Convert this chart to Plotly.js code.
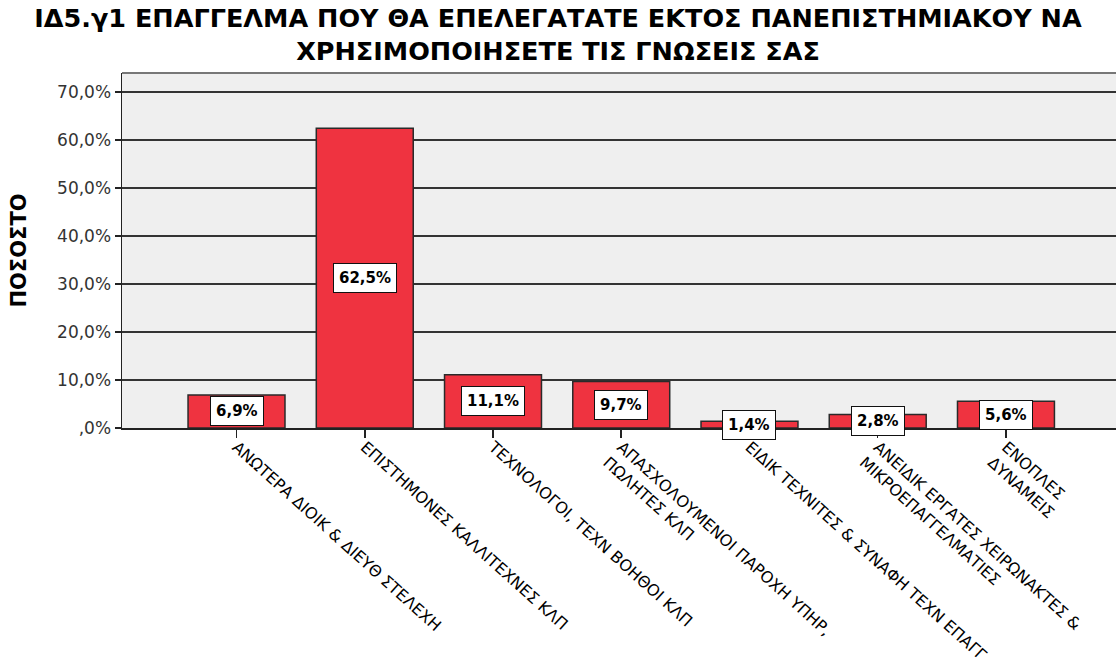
<!DOCTYPE html>
<html>
<head>
<meta charset="utf-8">
<script src="https://cdn.plot.ly/plotly-3.0.1.min.js"></script>
<style>html,body{margin:0;padding:0;background:#fff;}#chart{width:1116px;height:666px;}</style>
</head>
<body>
<div id="chart"></div>
<script>
const categories = [
  "ΑΝΩΤΕΡΑ ΔΙΟΙΚ & ΔΙΕΥΘ ΣΤΕΛΕΧΗ",
  "ΕΠΙΣΤΗΜΟΝΕΣ ΚΑΛΛΙΤΕΧΝΕΣ ΚΛΠ",
  "ΤΕΧΝΟΛΟΓΟΙ, ΤΕΧΝ ΒΟΗΘΟΙ ΚΛΠ",
  "ΑΠΑΣΧΟΛΟΥΜΕΝΟΙ ΠΑΡΟΧΗ ΥΠΗΡ,<br>ΠΩΛΗΤΕΣ ΚΛΠ",
  "ΕΙΔΙΚ ΤΕΧΝΙΤΕΣ & ΣΥΝΑΦΗ ΤΕΧΝ ΕΠΑΓΓ",
  "ΑΝΕΙΔΙΚ ΕΡΓΑΤΕΣ ΧΕΙΡΩΝΑΚΤΕΣ &<br>ΜΙΚΡΟΕΠΑΓΓΕΛΜΑΤΙΕΣ",
  "ΕΝΟΠΛΕΣ<br>ΔΥΝΑΜΕΙΣ"
];
const values = [6.9, 62.5, 11.1, 9.7, 1.4, 2.8, 5.6];
const valueLabels = ["6,9%", "62,5%", "11,1%", "9,7%", "1,4%", "2,8%", "5,6%"];
const yTickVals = [0, 10, 20, 30, 40, 50, 60, 70];
const yTickText = [",0%", "10,0%", "20,0%", "30,0%", "40,0%", "50,0%", "60,0%", "70,0%"];

const xIdx = categories.map((c, i) => i);
const FONT = 'DejaVu Sans, Liberation Sans, Arial, sans-serif';

const trace = {
  type: 'bar',
  x: xIdx,
  y: values,
  marker: { color: '#EF3340', line: { color: '#2a2a2a', width: 1.5 } },
  hoverinfo: 'none'
};

const annotations = values.map((v, i) => ({
  x: i, y: v / 2, xref: 'x', yref: 'y',
  text: '<b>' + valueLabels[i] + '</b>',
  showarrow: false,
  bgcolor: '#ffffff',
  bordercolor: '#111111',
  borderwidth: 1,
  borderpad: 5,
  font: { family: FONT, size: 15, color: '#000' }
}));

const layout = {
  width: 1116, height: 666,
  margin: { l: 122, r: 0, t: 73, b: 238 },
  paper_bgcolor: '#ffffff',
  plot_bgcolor: '#EFEFEF',
  bargap: 0.244,
  showlegend: false,
  title: {
    text: '<b>ΙΔ5.γ1 ΕΠΑΓΓΕΛΜΑ ΠΟΥ ΘΑ ΕΠΕΛΕΓΑΤΑΤΕ ΕΚΤΟΣ ΠΑΝΕΠΙΣΤΗΜΙΑΚΟΥ ΝΑ<br>ΧΡΗΣΙΜΟΠΟΙΗΣΕΤΕ ΤΙΣ ΓΝΩΣΕΙΣ ΣΑΣ</b>',
    x: 0.5, xanchor: 'center', yref: 'container', y: 0.96, yanchor: 'middle',
    font: { family: FONT, size: 25.5, color: '#000' }
  },
  xaxis: {
    range: [-0.893, 6.858],
    tickmode: 'array', tickvals: xIdx, ticktext: categories,
    tickangle: 42,
    ticks: 'outside', ticklen: 8, tickwidth: 1.5, tickcolor: '#222',
    ticklabelstandoff: -6,
    showgrid: false, zeroline: false,
    showline: true, linecolor: '#222', linewidth: 1.5,
    tickfont: { family: FONT, size: 16, color: '#000' },
    fixedrange: true
  },
  yaxis: {
    range: [0, 74],
    tickmode: 'array', tickvals: yTickVals, ticktext: yTickText,
    ticks: 'outside', ticklen: 6, tickwidth: 1.5, tickcolor: '#222',
    showgrid: true, gridcolor: '#333333', gridwidth: 1.5,
    zeroline: false,
    showline: true, linecolor: '#222', linewidth: 1.5, mirror: false,
    tickfont: { family: FONT, size: 17, color: '#333' },
    title: { text: '<b>ΠΟΣΟΣΤΟ</b>', standoff: 24, font: { family: FONT, size: 21, color: '#000' } },
    fixedrange: true
  },
  shapes: [
    { type: 'line', xref: 'paper', yref: 'paper', x0: 0, x1: 1, y0: 1, y1: 1, line: { color: '#777', width: 2 } }
  ],
  annotations: annotations
};

Plotly.newPlot('chart', [trace], layout, { displayModeBar: false, staticPlot: true });
</script>
</body>
</html>
